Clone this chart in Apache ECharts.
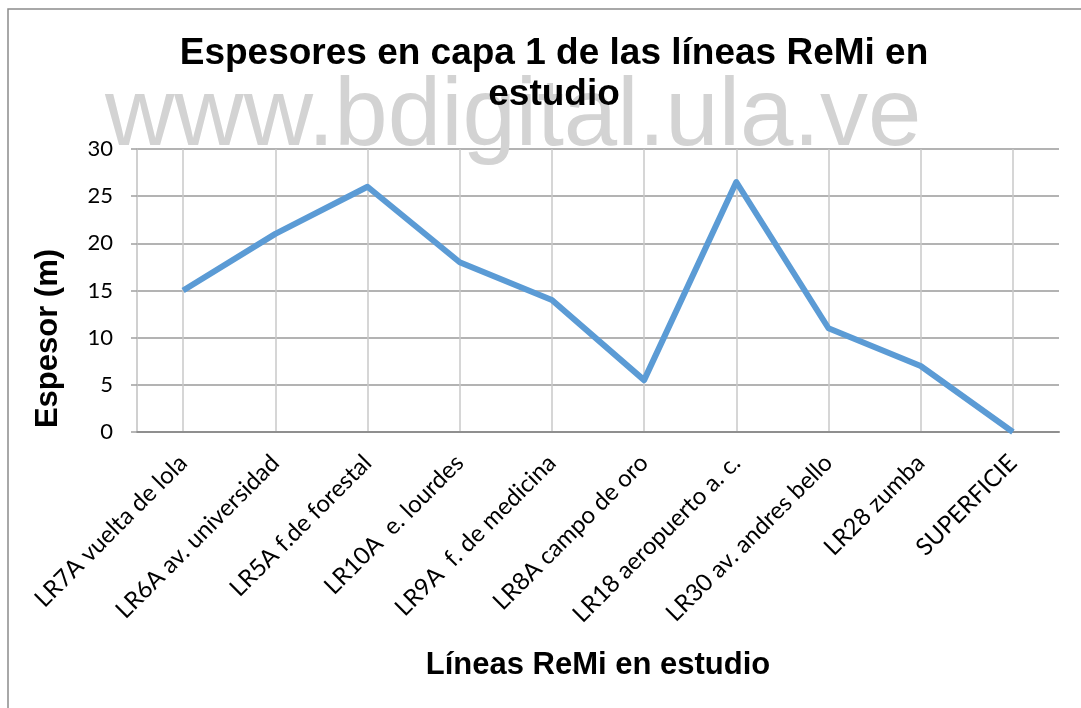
<!DOCTYPE html>
<html>
<head>
<meta charset="utf-8">
<script src="https://cdn.jsdelivr.net/npm/echarts@6/dist/echarts.min.js"></script>
<style>
html,body{margin:0;padding:0;background:#fff;}
#c{width:1081px;height:708px;}
</style>
</head>
<body>
<div id="c"></div>
<script>
const categories = ["LR7A vuelta de lola", "LR6A av. universidad", "LR5A f.de forestal", "LR10A  e. lourdes", "LR9A  f. de medicina", "LR8A campo de oro", "LR18 aeropuerto a. c.", "LR30 av. andres bello", "LR28 zumba", "SUPERFICIE"];
const espesor = [15, 21, 26, 18, 14, 5.5, 26.5, 11, 7, 0];
const yTicks = [0, 5, 10, 15, 20, 25, 30];

const chart = echarts.init(document.getElementById('c'), null, {renderer: 'canvas'});
chart.setOption({
  animation: false,
  backgroundColor: '#fff',
  title: {
    text: 'Espesores en capa 1 de las líneas ReMi en\nestudio',
    left: 549, top: 28, textAlign: 'center',
    textStyle: {fontFamily: 'Liberation Sans, Arial', fontWeight: 'bold', fontSize: 37, lineHeight: 41, color: '#000'},
    z: 10
  },
  graphic: [
    {type: 'rect', shape: {x: 8, y: 9, width: 1100, height: 720}, style: {fill: 'none', stroke: '#8c8c8c', lineWidth: 1.5}, z: -1, silent: true},
    {type: 'text', left: 105, top: 71, z: 1, silent: true,
     style: {text: 'www.bdigital.ula.ve', fontFamily: 'Liberation Sans, Arial', fontSize: 96, fill: '#d3d3d3'}}
  ],
  grid: {left: 137, right: 22, top: 149, bottom: 276, containLabel: false, outerBoundsMode: 'none'},
  xAxis: {
    type: 'category', data: categories, boundaryGap: true,
    name: 'Líneas ReMi en estudio', nameLocation: 'middle', nameGap: 218,
    nameTextStyle: {fontFamily: 'Liberation Sans, Arial', fontWeight: 'bold', fontSize: 31, color: '#000'},
    axisLine: {lineStyle: {color: '#8f8f8f', width: 2}},
    axisTick: {show: false},
    splitLine: {show: true, alignWithLabel: true, lineStyle: {color: '#c8c8c8', width: 1.5}},
    axisLabel: {rotate: 45, interval: 0, margin: 27, fontFamily: 'Lato', fontSize: 24, color: '#000'}
  },
  yAxis: {
    type: 'value', min: 0, max: 30, interval: 5,
    name: 'Espesor (m)', nameLocation: 'middle', nameGap: 73, nameRotate: 90,
    nameTextStyle: {fontFamily: 'Liberation Sans, Arial', fontWeight: 'bold', fontSize: 31, color: '#000', padding: [0, 96, 0, 0]},
    axisLine: {show: true, lineStyle: {color: '#c0c0c0', width: 1.5}},
    axisTick: {show: true, length: 6, lineStyle: {color: '#a0a0a0', width: 1.5}},
    splitLine: {show: true, lineStyle: {color: '#9a9a9a', width: 1.5}},
    axisLabel: {margin: 24, fontFamily: 'Lato', fontSize: 22, color: '#000',
      formatter: v => yTicks.indexOf(v) >= 0 ? String(v) : ''}
  },
  series: [{
    type: 'line', data: espesor, symbol: 'none',
    lineStyle: {color: '#5b9bd5', width: 6, join: 'round'},
    z: 3
  }]
});
</script>
</body>
</html>
